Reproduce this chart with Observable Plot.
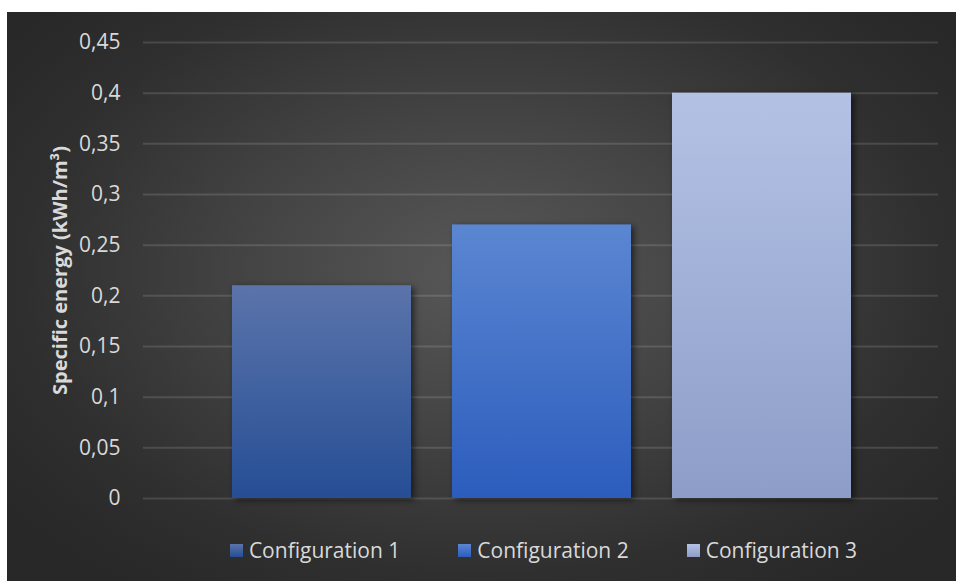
<!DOCTYPE html>
<html>
<head>
<meta charset="utf-8">
<script src="https://cdn.jsdelivr.net/npm/d3@7"></script>
<script src="https://cdn.jsdelivr.net/npm/@observablehq/plot@0.6"></script>
<style>
  html, body { margin: 0; padding: 0; background: #ffffff; }
  #panel {
    position: absolute;
    left: 7px; top: 12px;
    width: 949px; height: 569px;
    background: radial-gradient(ellipse 62% 68% at 50% 46%, #585858 0%, #444444 40%, #2f2f2f 78%, #282828 100%);
    font-family: "Open Sans", sans-serif;
  }
  #panel svg { display: block; }
  #legend {
    display: flex;
    justify-content: center;
    align-items: center;
    height: 50px;
    padding-left: 142px;
    padding-right: 18px;
    gap: 58px;
    color: #d9d9d9;
    font-size: 21px;
  }
  .item { display: flex; align-items: center; gap: 6px; }
  .swatch { width: 13px; height: 13px; }
</style>
</head>
<body>
<div id="panel"></div>
<script>
// Specific energy per configuration (kWh/m³)
const categories = ["Configuration 1", "Configuration 2", "Configuration 3"];
const energy = [0.21, 0.27, 0.40];

// Vertical gradient stops (top, bottom) for each configuration's bar
const gradTop = ["#5b74aa", "#5b86d1", "#b3c2e4"];
const gradBottom = ["#264e95", "#2c5dbd", "#8e9dc8"];

// Y axis ticks and their labels (decimal comma)
const yTicks = [0, 0.05, 0.1, 0.15, 0.2, 0.25, 0.3, 0.35, 0.4, 0.45];
const yTickLabels = ["0", "0,05", "0,1", "0,15", "0,2", "0,25", "0,3", "0,35", "0,4", "0,45"];
const yLabel = "Specific energy (kWh/m³)";

const data = categories.map((c, i) => ({config: c, value: energy[i], grad: `url(#bar-grad-${i})`}));

const chart = Plot.plot({
  width: 949,
  height: 513,
  marginLeft: 136,
  marginRight: 18,
  marginTop: 30,
  marginBottom: 27,
  style: {background: "transparent", color: "#d9d9d9", fontFamily: "'Open Sans', sans-serif", fontSize: "21px"},
  x: {domain: categories, range: [224, 845], paddingInner: 0.186, paddingOuter: 0, axis: null},
  y: {
    domain: [0, 0.45],
    ticks: yTicks,
    tickFormat: d => yTickLabels[yTicks.indexOf(d)],
    tickSize: 0,
    tickPadding: 23,
    label: null
  },
  marks: [
    Plot.ruleY(yTicks, {stroke: "#ffffff", strokeOpacity: 0.13, strokeWidth: 2}),
    ...data.map(d => Plot.barY([d], {x: "config", y: "value", fill: d.grad})),
    Plot.text([yLabel], {
      frameAnchor: "left",
      text: d => d,
      textAnchor: "middle",
      rotate: -90,
      dx: -83,
      fontWeight: "bold",
      fontSize: 20,
      fill: "#d9d9d9"
    })
  ]
});

// Gradient definitions for the bars
const svg = d3.select(chart);
const defs = svg.insert("defs", ":first-child");
categories.forEach((c, i) => {
  const g = defs.append("linearGradient")
    .attr("id", `bar-grad-${i}`)
    .attr("x1", 0).attr("y1", 0).attr("x2", 0).attr("y2", 1);
  g.append("stop").attr("offset", "0%").attr("stop-color", gradTop[i]);
  g.append("stop").attr("offset", "100%").attr("stop-color", gradBottom[i]);
});
svg.selectAll('g[aria-label="bar"] rect')
  .style("filter", "drop-shadow(3px 2px 3px rgba(0,0,0,0.55))");

const panel = document.getElementById("panel");
panel.appendChild(chart);

// Legend below the chart
const legend = d3.select(panel).append("div").attr("id", "legend");
categories.forEach((c, i) => {
  const item = legend.append("div").attr("class", "item");
  item.append("div").attr("class", "swatch")
    .style("background", `linear-gradient(${gradTop[i]}, ${gradBottom[i]})`);
  item.append("span").text(c);
});
</script>
</body>
</html>
